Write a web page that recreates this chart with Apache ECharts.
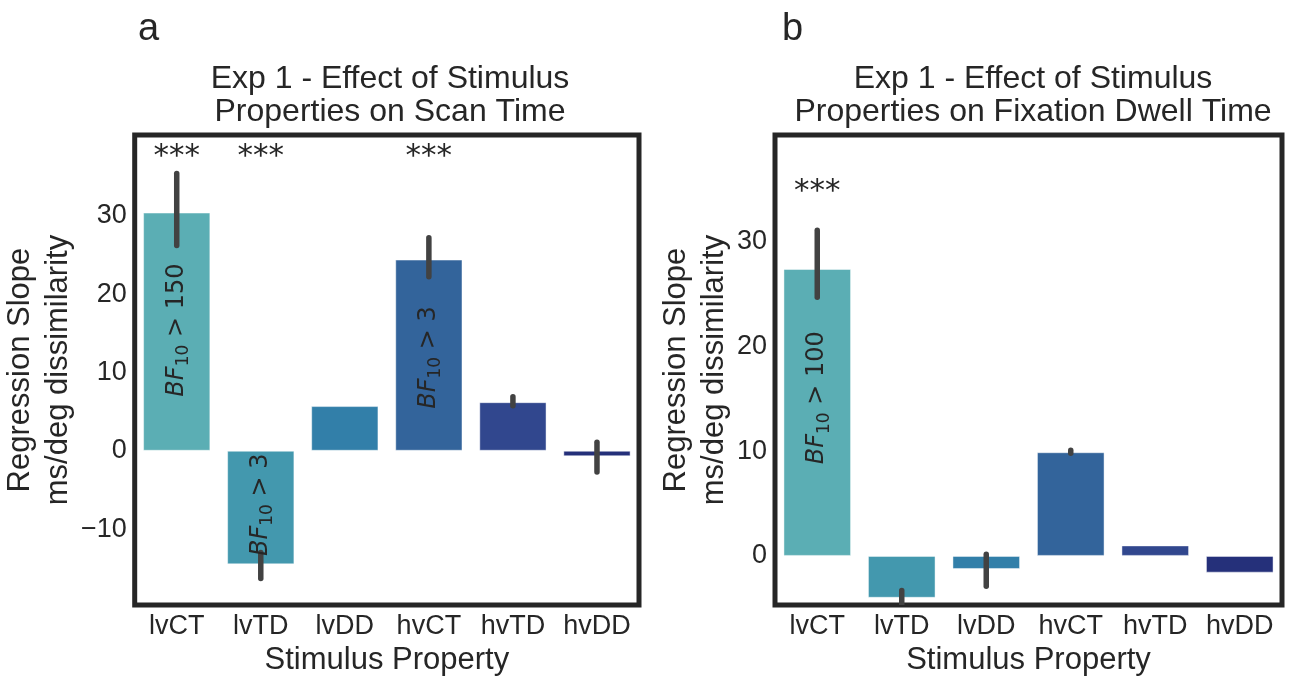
<!DOCTYPE html>
<html>
<head>
<meta charset="utf-8">
<script src="https://cdn.jsdelivr.net/npm/echarts@6/dist/echarts.min.js"></script>
<style>
  html, body { margin: 0; padding: 0; background: #fff; }
  #chart { width: 1290px; height: 681px; }
</style>
</head>
<body>
<div id="chart"></div>
<script>
// categories shared by both panels
const categories = ['lvCT', 'lvTD', 'lvDD', 'hvCT', 'hvTD', 'hvDD'];
const barColors = ['#5BAEB4', '#4398AE', '#327FA9', '#33649B', '#31478E', '#25307A'];

// panel a: scan time
const scanSlope = [30.4, -14.5, 5.7, 24.4, 6.2, -0.7];
const scanLow = [26.2, -16.3, null, 22.2, 5.75, -2.7];
const scanHigh = [35.4, -13.0, null, 27.2, 6.9, 1.1];
const scanStars = ['***', '***', '', '***', '', ''];
const scanStarY = 37.5;
const scanBFCat = [0, 1, 3];
const scanBFY = [15.4, -6.9, 11.9];
const scanBFText = ['150', '3', '3'];
const scanTicks = [-10, 0, 10, 20, 30];

// panel b: fixation dwell time
const dwellSlope = [27.4, -4.0, -1.25, 9.9, 1.0, -1.6];
const dwellLow = [24.7, -5.5, -2.9, 9.8, null, null];
const dwellHigh = [31.1, -3.3, 0.15, 10.1, null, null];
const dwellStars = ['***', '', '', '', '', ''];
const dwellStarY = 34.8;
const dwellBFCat = [0];
const dwellBFY = [15.1];
const dwellBFText = ['100'];
const dwellTicks = [0, 10, 20, 30];

const FONT = 'Liberation Sans, Arial, sans-serif';
const INK = '#262626';

const chart = echarts.init(document.getElementById('chart'));

const fmtTick = (ticks) => (v) => {
  const hit = ticks.find(t => Math.abs(t - v) < 1e-6);
  if (hit === undefined) return '';
  return hit < 0 ? '\u2212' + Math.abs(hit) : String(hit);
};

const errData = (lo, hi) => lo.map((l, i) => [i, l, hi[i]]).filter(d => d[1] !== null);
const starData = (stars, y) => stars.map((s, i) => [i, y, s]).filter(d => d[2]);
const bfData = (cats, ys, txt) => cats.map((c, i) => [c, ys[i], txt[i]]);

const errSeries = (idx, data) => ({
  type: 'custom',
  xAxisIndex: idx, yAxisIndex: idx,
  clip: true,
  z: 5,
  data: data,
  renderItem: (params, api) => {
    const p1 = api.coord([api.value(0), api.value(1)]);
    const p2 = api.coord([api.value(0), api.value(2)]);
    return {
      type: 'line',
      shape: { x1: p1[0], y1: p1[1], x2: p2[0], y2: p2[1] },
      style: { stroke: '#424242', lineWidth: 5.5, lineCap: 'round' }
    };
  }
});

const starSeries = (idx, data) => ({
  type: 'custom',
  xAxisIndex: idx, yAxisIndex: idx,
  z: 6,
  data: data,
  renderItem: (params, api) => {
    const p = api.coord([api.value(0), api.value(1)]);
    return {
      type: 'text', x: p[0], y: p[1],
      style: {
        text: data[params.dataIndex][2],
        fill: INK, font: '31px DejaVu Sans',
        align: 'center', verticalAlign: 'middle'
      }
    };
  }
});

const bfSeries = (idx, data) => ({
  type: 'custom',
  xAxisIndex: idx, yAxisIndex: idx,
  z: 6,
  data: data,
  renderItem: (params, api) => {
    const p = api.coord([api.value(0), api.value(1)]);
    return {
      type: 'text', x: p[0], y: p[1], rotation: Math.PI / 2,
      style: {
        text: '{i|BF}{s|10}{n| > ' + data[params.dataIndex][2] + '}',
        fill: INK,
        align: 'center', verticalAlign: 'middle',
        rich: {
          i: { fontFamily: 'DejaVu Sans', fontStyle: 'italic', fontSize: 24, lineHeight: 31, fill: INK },
          s: { fontFamily: 'DejaVu Sans', fontSize: 17, lineHeight: 31, verticalAlign: 'bottom', fill: INK },
          n: { fontFamily: 'DejaVu Sans', fontSize: 24, lineHeight: 31, fill: INK }
        }
      }
    };
  }
});

const barSeries = (idx, vals) => ({
  type: 'bar',
  xAxisIndex: idx, yAxisIndex: idx,
  barWidth: '80%',
  data: vals.map((v, i) => ({
    value: v,
    itemStyle: { color: barColors[i], borderColor: 'rgba(255,255,255,0.45)', borderWidth: 1 }
  }))
});

const xAxisCfg = (idx) => ({
  type: 'category', gridIndex: idx, data: categories,
  axisLine: { show: false }, axisTick: { show: false },
  axisLabel: { color: INK, fontFamily: FONT, fontSize: 27, margin: 8, interval: 0 },
  name: 'Stimulus Property', nameLocation: 'middle', nameGap: 36,
  nameTextStyle: { color: INK, fontFamily: FONT, fontSize: 31 }
});

const yAxisCfg = (idx, min, max, ticks, gap) => ({
  type: 'value', gridIndex: idx, min: min, max: max,
  axisLine: { show: false }, axisTick: { show: false }, splitLine: { show: false },
  axisLabel: { color: INK, fontFamily: FONT, fontSize: 27, margin: 8, formatter: fmtTick(ticks),
    showMinLabel: false, showMaxLabel: false },
  name: 'Regression Slope\nms/deg dissimilarity', nameLocation: 'middle', nameRotate: 90, nameGap: gap,
  nameTextStyle: { color: INK, fontFamily: FONT, fontSize: 31, lineHeight: 38 }
});

const titleCfg = (text, x) => ({
  text: text, left: x, top: 58, textAlign: 'center',
  textStyle: { color: INK, fontFamily: FONT, fontSize: 32, fontWeight: 'normal', lineHeight: 33 }
});

chart.setOption({
  animation: false,
  backgroundColor: '#fff',
  title: [
    { text: 'a', left: 133, top: 6, textStyle: { color: INK, fontFamily: FONT, fontSize: 38, fontWeight: 'normal' } },
    { text: 'b', left: 777, top: 6, textStyle: { color: INK, fontFamily: FONT, fontSize: 38, fontWeight: 'normal' } },
    titleCfg('Exp 1 - Effect of Stimulus\nProperties on Scan Time', 385),
    titleCfg('Exp 1 - Effect of Stimulus\nProperties on Fixation Dwell Time', 1028)
  ],
  grid: [
    { left: 131, top: 135, width: 508, height: 478, show: true, borderColor: INK, borderWidth: 5, backgroundColor: 'transparent' },
    { left: 775, top: 135, width: 507, height: 478, show: true, borderColor: INK, borderWidth: 5, backgroundColor: 'transparent' }
  ],
  xAxis: [xAxisCfg(0), xAxisCfg(1)],
  yAxis: [
    yAxisCfg(0, -19.7, 40.3, scanTicks, 36),
    yAxisCfg(1, -4.7, 40.2, dwellTicks, 36)
  ],
  series: [
    barSeries(0, scanSlope),
    errSeries(0, errData(scanLow, scanHigh)),
    starSeries(0, starData(scanStars, scanStarY)),
    bfSeries(0, bfData(scanBFCat, scanBFY, scanBFText)),
    barSeries(1, dwellSlope),
    errSeries(1, errData(dwellLow, dwellHigh)),
    starSeries(1, starData(dwellStars, dwellStarY)),
    bfSeries(1, bfData(dwellBFCat, dwellBFY, dwellBFText))
  ]
});
</script>
</body>
</html>
